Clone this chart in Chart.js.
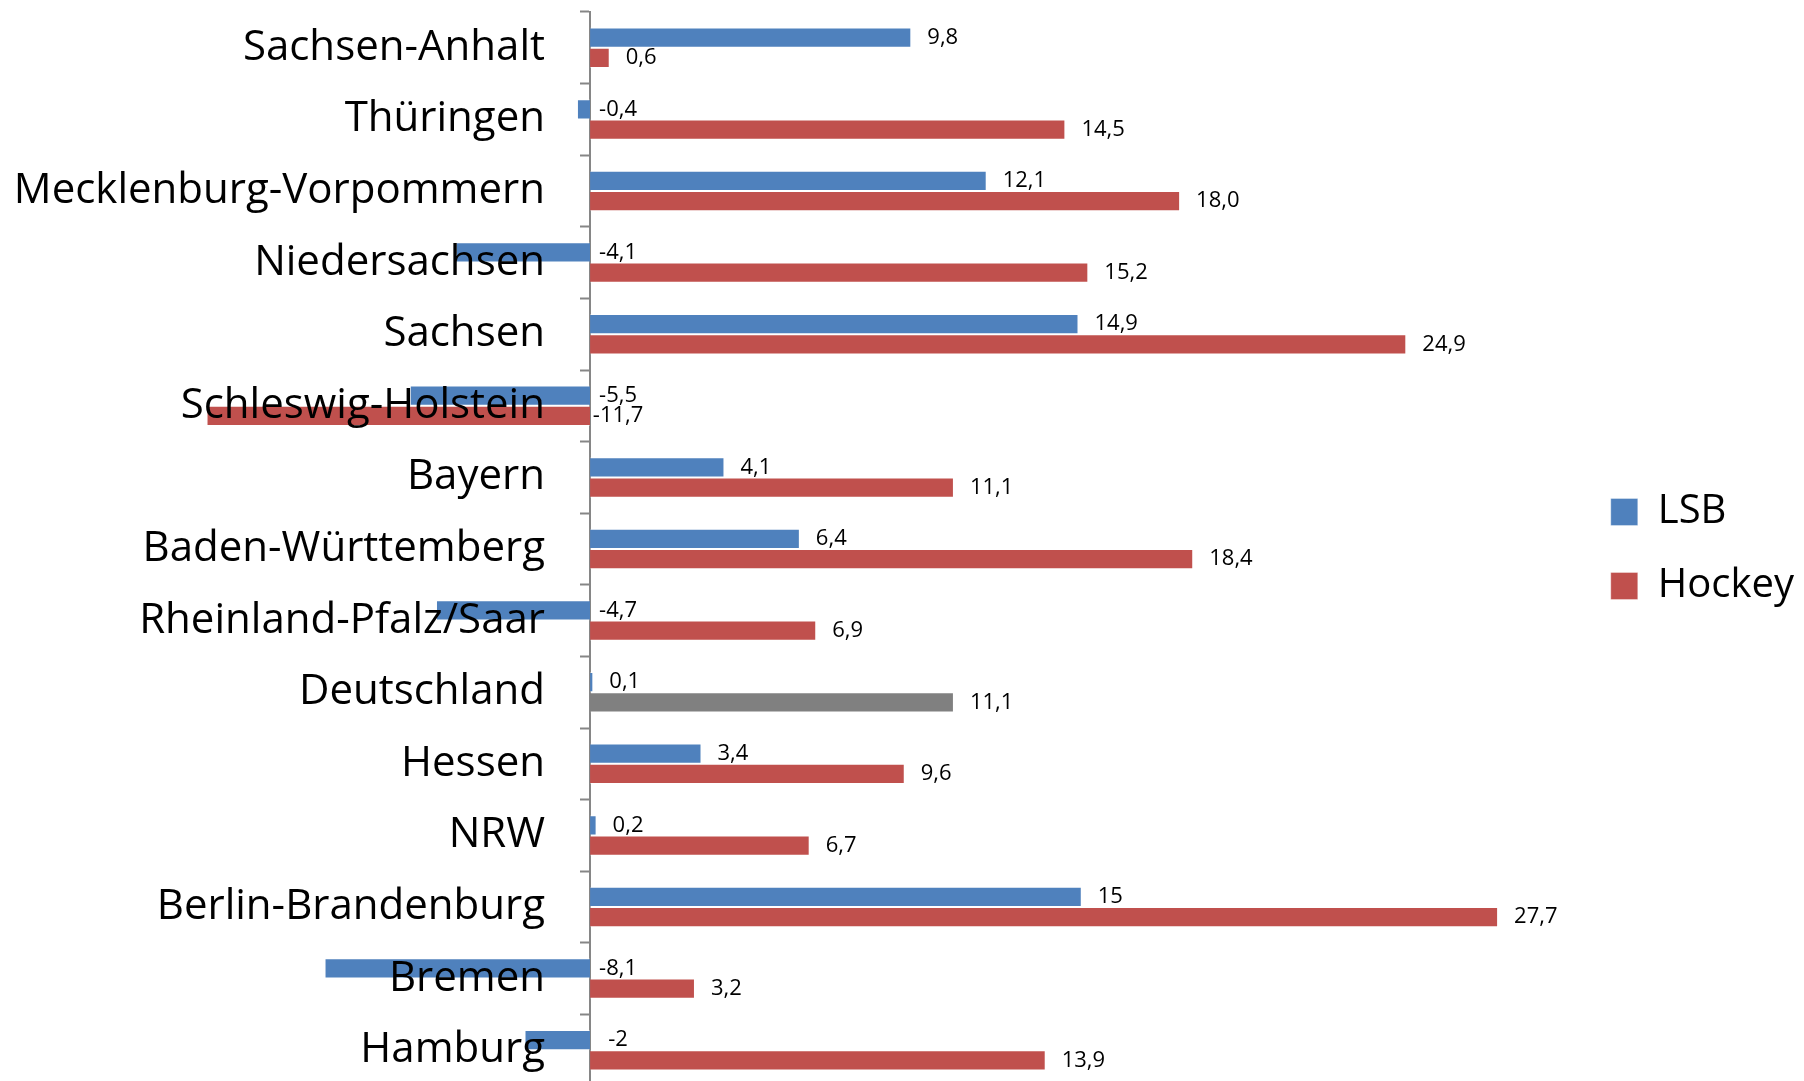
<!DOCTYPE html>
<html>
<head>
<meta charset="utf-8">
<script src="https://cdn.jsdelivr.net/npm/chart.js@4"></script>
<style>
  html, body { margin: 0; padding: 0; background: #fff; overflow: hidden; }
  #wrap { width: 1804px; height: 1086px; }
</style>
</head>
<body>
<div id="wrap"><canvas id="barChart"></canvas></div>
<script>
const categories = ['Sachsen-Anhalt', 'Thüringen', 'Mecklenburg-Vorpommern', 'Niedersachsen', 'Sachsen',
    'Schleswig-Holstein', 'Bayern', 'Baden-Württemberg', 'Rheinland-Pfalz/Saar', 'Deutschland',
    'Hessen', 'NRW', 'Berlin-Brandenburg', 'Bremen', 'Hamburg'];
const lsb = [9.8, -0.4, 12.1, -4.1, 14.9, -5.5, 4.1, 6.4, -4.7, 0.1, 3.4, 0.2, 15, -8.1, -2];
const hockey = [0.6, 14.5, 18.0, 15.2, 24.9, -11.7, 11.1, 18.4, 6.9, 11.1, 9.6, 6.7, 27.7, 3.2, 13.9];

const BLUE = '#4F81BD';
const RED = '#C0504D';
const GREY = '#808080';

// axes sitting inside the chart area should not push the layout around
const noPadding = (scale) => {
    scale.paddingTop = 0;
    scale.paddingBottom = 0;
    scale.paddingLeft = 0;
    scale.paddingRight = 0;
};

// value labels, Excel style (comma decimals)
const valueLabels = {
    id: 'valueLabels',
    afterDatasetsDraw(chart) {
        const { ctx } = chart;
        const zeroX = chart.scales.x.getPixelForValue(0);
        ctx.save();
        ctx.font = '22px "Open Sans"';
        ctx.fillStyle = '#000';
        ctx.textBaseline = 'middle';
        chart.data.datasets.forEach((ds, di) => {
            const meta = chart.getDatasetMeta(di);
            meta.data.forEach((bar, i) => {
                const v = ds.data[i];
                const txt = di === 1 ? v.toFixed(1).replace('.', ',') : String(v).replace('.', ',');
                if (v >= 0) {
                    ctx.textAlign = 'left';
                    ctx.fillText(txt, bar.x + 16, bar.y);
                } else {
                    ctx.textAlign = 'center';
                    ctx.fillText(txt, zeroX + 28, bar.y);
                }
            });
        });
        ctx.restore();
    }
};

const ctx = document.getElementById('barChart').getContext('2d');

new Chart(ctx, {
    type: 'bar',
    data: {
        labels: categories,
        datasets: [
            {
                label: 'LSB',
                data: lsb,
                backgroundColor: BLUE,
                borderColor: 'rgba(255,255,255,0.35)',
                borderWidth: 1
            },
            {
                label: 'Hockey',
                data: hockey,
                backgroundColor: categories.map(c => c === 'Deutschland' ? GREY : RED),
                borderColor: 'rgba(255,255,255,0.35)',
                borderWidth: 1
            }
        ]
    },
    options: {
        indexAxis: 'y',
        responsive: true,
        maintainAspectRatio: false,
        animation: false,
        categoryPercentage: 0.565,
        barPercentage: 1.0,
        layout: { padding: { top: 12, bottom: 0, left: 0, right: 0 } },
        scales: {
            x: {
                display: false,
                min: -18,
                max: 30.1
            },
            y: {
                position: { x: 0 },
                afterFit: noPadding,
                border: { display: true, color: '#868686', width: 2 },
                grid: {
                    offset: true,
                    drawOnChartArea: false,
                    drawTicks: true,
                    tickLength: 9,
                    tickColor: '#868686',
                    tickWidth: 2
                },
                ticks: { display: false }
            },
            yLabels: {
                type: 'category',
                axis: 'y',
                labels: categories,
                offset: true,
                position: { x: -1.375 },
                afterFit: noPadding,
                border: { display: false },
                grid: { display: false },
                ticks: {
                    z: 1,
                    color: '#000',
                    padding: 0,
                    font: { family: '"Open Sans"', size: 42 }
                }
            }
        },
        plugins: {
            legend: {
                position: 'right',
                labels: {
                    color: '#000',
                    boxWidth: 27,
                    boxHeight: 27,
                    padding: 34,
                    font: { family: '"Open Sans"', size: 40 }
                }
            },
            tooltip: { enabled: false }
        }
    },
    plugins: [valueLabels]
});
</script>
</body>
</html>
